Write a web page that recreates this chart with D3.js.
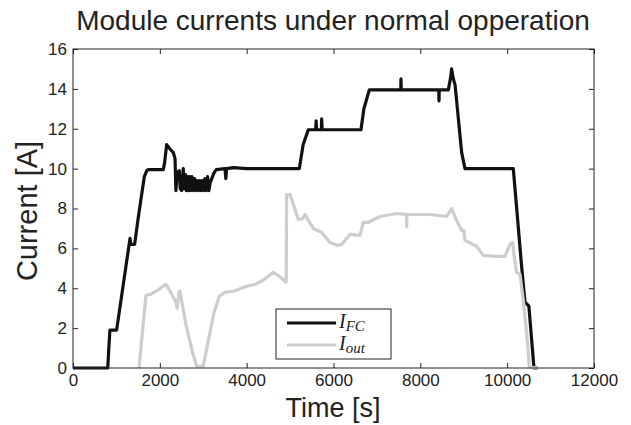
<!DOCTYPE html>
<html>
<head>
<meta charset="utf-8">
<script src="https://d3js.org/d3.v7.min.js"></script>
<style>
  body { margin: 0; background: #fff; }
  text { font-family: "Liberation Sans", Arial, sans-serif; fill: #222; }
</style>
</head>
<body>
<div id="chart"></div>
<script>
// I_FC: fuel cell current
var fcTime = [0, 800, 820, 850, 1005, 1313, 1330, 1420, 1500, 1643, 1700, 1735, 2080, 2110, 2157, 2230, 2311, 2350,
    2370, 2400, 2449, 2470, 2503, 2540, 2560, 2590, 2610, 2640, 2660, 2690, 2710, 2740, 2770, 2800, 2830, 2860,
    2890, 2920, 2950, 2980, 3010, 3040, 3070, 3100, 3130, 3160, 3250, 3300, 3500, 3520, 3540, 3700, 4000, 5213,
    5300, 5420, 5590, 5600, 5610, 5720, 5727, 5740, 6633, 6700, 6825, 7550, 7554, 7560, 8425, 8430, 8435, 8645,
    8700, 8721, 8760, 8800, 8952, 9028, 10141, 10333, 10410, 10500, 10617, 10700];
var fcCurrent = [0, 0, 0.8, 1.9, 1.9, 6.5, 6.2, 6.2, 7.5, 9.6, 9.9, 9.95, 9.95, 10.3, 11.2, 11.0, 10.8, 10.5,
    8.9, 9.8, 9.9, 9.0, 8.9, 10.0, 9.0, 9.7, 8.9, 9.6, 8.9, 9.6, 8.9, 9.6, 8.9, 9.5, 8.9, 9.4,
    8.9, 9.4, 8.9, 9.4, 8.9, 9.5, 8.9, 9.6, 8.9, 9.3, 9.8, 9.95, 10.0, 9.5, 10.0, 10.05, 10.0, 10.0,
    11.2, 11.95, 11.95, 12.4, 11.95, 11.95, 12.5, 11.95, 11.95, 13.0, 13.95, 13.95, 14.5, 13.95, 13.95, 13.4, 13.95, 13.95,
    14.6, 15.0, 14.5, 14.2, 10.8, 10.0, 10.0, 5.1, 3.3, 3.1, 0, 0];

// I_out: module output current
var outTime = [1520, 1681, 1800, 1950, 2142, 2250, 2372, 2400, 2440, 2464, 2600, 2750, 2848, 3000, 3100, 3250,
    3370, 3500, 3700, 4000, 4200, 4380, 4613, 4750, 4883, 4910, 4921, 5000, 5030, 5189, 5300, 5343, 5450, 5535,
    5727, 5919, 6100, 6188, 6380, 6610, 6686, 6800, 7070, 7455, 7680, 7685, 7690, 8222, 8606, 8721, 8836, 8952,
    9000, 9028, 9298, 9451, 9758, 9950, 10065, 10126, 10160, 10218, 10295, 10372, 10464, 10510, 10700];
var outCurrent = [0, 3.65, 3.7, 3.9, 4.2, 3.8, 3.3, 3.0, 3.8, 3.85, 2.2, 0.8, 0.1, 0.1, 1.2, 2.8,
    3.6, 3.8, 3.85, 4.1, 4.2, 4.4, 4.8, 4.6, 4.35, 4.3, 8.7, 8.7, 8.5, 7.45, 7.5, 7.7, 7.3, 7.0,
    6.8, 6.3, 6.15, 6.2, 6.7, 6.65, 7.3, 7.3, 7.6, 7.75, 7.7, 7.1, 7.7, 7.7, 7.6, 8.0, 7.4, 6.9,
    6.9, 6.4, 6.1, 5.65, 5.6, 5.6, 6.2, 6.3, 5.6, 4.8, 4.7, 3.4, 1.4, 0.05, 0];

var xTicks = [0, 2000, 4000, 6000, 8000, 10000, 12000];
var yTicks = [0, 2, 4, 6, 8, 10, 12, 14, 16];

var svgWidth = 631;
var svgHeight = 425;

var margin = {
    top: 49,
    right: 37,
    bottom: 57,
    left: 73
};

var chartWidth = svgWidth - margin.left - margin.right;
var chartHeight = svgHeight - margin.top - margin.bottom;

var svg = d3.select("#chart")
    .append("svg")
    .attr("width", svgWidth)
    .attr("height", svgHeight);

var chartGroup = svg.append("g")
    .attr("transform", `translate(${margin.left}, ${margin.top})`);

var xScale = d3.scaleLinear().domain([0, 12000]).range([0, chartWidth]);
var yScale = d3.scaleLinear().domain([0, 16]).range([chartHeight, 0]);

// matlab style: ticks pointing inwards on all four sides
function styleAxis(g) {
    g.select(".domain").remove();
    g.selectAll("line").attr("stroke", "#222");
    g.selectAll("text").style("font-size", "17px").style("font-family", "Liberation Sans, Arial, sans-serif").attr("fill", "#222");
}

chartGroup.append("g")
    .attr("transform", `translate(0, ${chartHeight})`)
    .call(d3.axisBottom(xScale).tickValues(xTicks).tickSizeInner(-5).tickSizeOuter(0).tickPadding(6).tickFormat(d3.format("d")))
    .call(styleAxis);

chartGroup.append("g")
    .call(d3.axisTop(xScale).tickValues(xTicks).tickSizeInner(-5).tickSizeOuter(0).tickFormat(""))
    .call(styleAxis);

chartGroup.append("g")
    .call(d3.axisLeft(yScale).tickValues(yTicks).tickSizeInner(-5).tickSizeOuter(0).tickPadding(6))
    .call(styleAxis);

chartGroup.append("g")
    .attr("transform", `translate(${chartWidth}, 0)`)
    .call(d3.axisRight(yScale).tickValues(yTicks).tickSizeInner(-5).tickSizeOuter(0).tickFormat(""))
    .call(styleAxis);

var line = d3.line()
    .x(d => xScale(d[0]))
    .y(d => yScale(d[1]));

var fcData = fcTime.map((t, i) => [t, fcCurrent[i]]);
var outData = outTime.map((t, i) => [t, outCurrent[i]]);

chartGroup.append("path")
    .datum(fcData)
    .attr("d", line)
    .attr("fill", "none")
    .attr("stroke", "#111")
    .attr("stroke-width", 3.2)
    .attr("stroke-linejoin", "round");

chartGroup.append("path")
    .datum(outData)
    .attr("d", line)
    .attr("fill", "none")
    .attr("stroke", "#cdcdcd")
    .attr("stroke-width", 3.2)
    .attr("stroke-linejoin", "round");

// box
chartGroup.append("rect")
    .attr("width", chartWidth)
    .attr("height", chartHeight)
    .attr("fill", "none")
    .attr("stroke", "#222")
    .attr("stroke-width", 1);

// legend
var legend = svg.append("g").attr("transform", "translate(276, 309)");
legend.append("rect")
    .attr("width", 115)
    .attr("height", 50)
    .attr("fill", "#fff")
    .attr("stroke", "#222");

var legendItems = [
    { main: "I", sub: "FC", color: "#111" },
    { main: "I", sub: "out", color: "#cdcdcd" }
];
legendItems.forEach(function(item, i) {
    var y = 14 + i * 22;
    legend.append("line")
        .attr("x1", 11).attr("x2", 60)
        .attr("y1", y).attr("y2", y)
        .attr("stroke", item.color)
        .attr("stroke-width", 3);
    var t = legend.append("text")
        .attr("x", 63)
        .attr("y", y + 4.5)
        .style("font-family", "Liberation Serif, serif")
        .style("font-style", "italic")
        .style("font-size", "20px");
    t.append("tspan").text(item.main);
    t.append("tspan").attr("dy", 3).style("font-size", "15px").text(item.sub);
});

svg.append("text")
    .attr("x", 333)
    .attr("y", 30)
    .attr("text-anchor", "middle")
    .style("font-size", "28px")
    .text("Module currents under normal opperation");

svg.append("text")
    .attr("x", 333)
    .attr("y", 417)
    .attr("text-anchor", "middle")
    .style("font-size", "27px")
    .text("Time [s]");

svg.append("text")
    .attr("transform", "rotate(-90)")
    .attr("x", -211)
    .attr("y", 37)
    .attr("text-anchor", "middle")
    .style("font-size", "29px")
    .text("Current [A]");
</script>
</body>
</html>
